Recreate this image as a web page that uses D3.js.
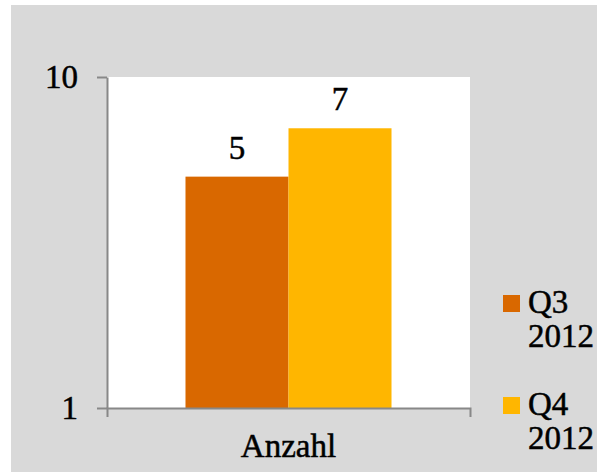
<!DOCTYPE html>
<html>
<head>
<meta charset="utf-8">
<script src="https://cdn.jsdelivr.net/npm/d3@7"></script>
<style>
  html, body { margin: 0; padding: 0; background: #ffffff; }
  svg { display: block; }
</style>
</head>
<body>
<svg id="chart" width="597" height="472"></svg>
<script>
// Data
const categories = ["Anzahl"];
const seriesNames = ["Q3 2012", "Q4 2012"];
const seriesValues = [5, 7];
const seriesColors = ["#d96800", "#ffb600"];
const yTicks = [1, 10];

const W = 597, H = 472;
const plot = { left: 107, right: 470, top: 77, bottom: 408 };
const fontSize = 33;
const fontFamily = '"Liberation Serif"';

const svg = d3.select("#chart");

// Text style shared by every label
function styleText(sel) {
  sel.attr("font-family", fontFamily)
    .attr("font-size", fontSize)
    .attr("fill", "#000")
    .attr("stroke", "#000")
    .attr("stroke-width", 0.5);
}

// Chart area background
svg.append("rect")
  .attr("x", 11).attr("y", 5)
  .attr("width", W - 11).attr("height", H - 5)
  .attr("fill", "#d9d9d9");

// Plot area
svg.append("rect")
  .attr("x", plot.left).attr("y", plot.top)
  .attr("width", plot.right - plot.left).attr("height", plot.bottom - plot.top)
  .attr("fill", "#ffffff");

// Scales
const y = d3.scaleLog().domain([1, 10]).range([plot.bottom, plot.top]);
const x = d3.scaleBand().domain(categories).range([plot.left, plot.right]).paddingInner(0).paddingOuter(0);
const xSub = d3.scaleBand().domain(seriesNames)
  .range([0, x.bandwidth()]).paddingOuter(0.762).paddingInner(0);

// Bars
const rows = seriesNames.map((s, i) => ({ cat: categories[0], series: s, value: seriesValues[i], color: seriesColors[i] }));

const g = svg.append("g");
g.selectAll("rect.bar")
  .data(rows)
  .join("rect")
  .attr("class", "bar")
  .attr("x", d => x(d.cat) + xSub(d.series))
  .attr("width", xSub.bandwidth())
  .attr("y", d => y(d.value))
  .attr("height", d => y(1) - y(d.value))
  .attr("fill", d => d.color);

// Value labels
g.selectAll("text.val")
  .data(rows)
  .join("text")
  .attr("class", "val")
  .attr("x", d => x(d.cat) + xSub(d.series) + xSub.bandwidth() / 2)
  .attr("y", d => y(d.value) - 18)
  .attr("text-anchor", "middle")
  .call(styleText)
  .text(d => d.value);

// Y axis
const yAxis = d3.axisLeft(y)
  .tickValues(yTicks)
  .tickFormat(d3.format("d"))
  .tickSizeInner(10)
  .tickSizeOuter(0)
  .tickPadding(19);

const yG = svg.append("g")
  .attr("transform", `translate(${plot.left},0)`)
  .call(yAxis);
yG.selectAll("path, line").attr("stroke", "#888888").attr("stroke-width", 2);
yG.selectAll("text").call(styleText);

// X axis
const xAxis = d3.axisBottom(x)
  .tickSizeInner(0)
  .tickSizeOuter(9)
  .tickPadding(26);

const xG = svg.append("g")
  .attr("transform", `translate(0,${plot.bottom})`)
  .call(xAxis);
xG.selectAll("path, line").attr("stroke", "#888888").attr("stroke-width", 2);
xG.selectAll("text").call(styleText);

// Legend
const legendItems = [
  { name: seriesNames[0], color: seriesColors[0], top: 295 },
  { name: seriesNames[1], color: seriesColors[1], top: 397 }
];
const lg = svg.append("g");
legendItems.forEach(item => {
  lg.append("rect")
    .attr("x", 503).attr("y", item.top)
    .attr("width", 17).attr("height", 17)
    .attr("fill", item.color);
  const t = lg.append("text")
    .attr("x", 528).attr("y", item.top + 18)
    .call(styleText);
  item.name.split(" ").forEach((part, i) => {
    t.append("tspan")
      .attr("x", 528)
      .attr("dy", i === 0 ? 0 : 34)
      .text(part);
  });
});
</script>
</body>
</html>
